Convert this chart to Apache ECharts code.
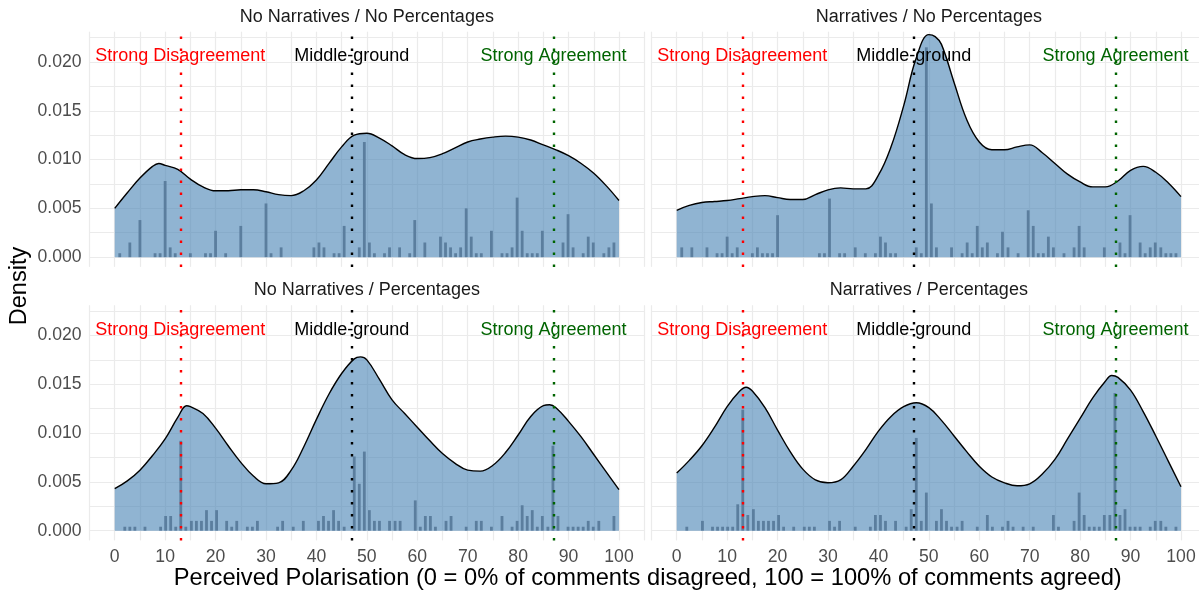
<!DOCTYPE html>
<html>
<head>
<meta charset="utf-8" />
<title>Perceived Polarisation</title>
<script src="https://cdn.jsdelivr.net/npm/echarts@6.0.0/dist/echarts.min.js"></script>
<style>
  html, body { margin: 0; padding: 0; background: #fff; }
  #chart { width: 1199px; height: 595px; }
</style>
</head>
<body>
<div id="chart"></div>
<script>
// panel titles, in facet order (top-left, top-right, bottom-left, bottom-right)
var panelTitles = ['No Narratives / No Percentages', 'Narratives / No Percentages',
                   'No Narratives / Percentages', 'Narratives / Percentages'];

// reference lines + their labels
var refX = [13, 47, 87];
var refLabels = ['Strong Disagreement', 'Middle-ground', 'Strong Agreement'];
var refColors = ['#ff0000', '#000000', '#006400'];
var refLabelY = 0.0206;

// axis ticks
var xLabelValues = [0, 10, 20, 30, 40, 50, 60, 70, 80, 90, 100];
var yLabelValues = [0, 0.005, 0.01, 0.015, 0.02];
var yGridValues = [0, 0.0025, 0.005, 0.0075, 0.01, 0.0125, 0.015, 0.0175, 0.02, 0.0225];

// density curves, read at these x positions
var densityX = [0, 2.5, 5, 7.5, 10, 12.5, 15, 17.5, 20, 22.5, 25, 27.5, 30, 32.5, 35, 37.5, 40,
                42.5, 45, 47.5, 50, 52.5, 55, 57.5, 60, 62.5, 65, 67.5, 70, 72.5, 75, 77.5, 80,
                82.5, 85, 87.5, 90, 92.5, 95, 97.5, 100];
var densNoNarrNoPct = [0.0050, 0.0066, 0.0081, 0.0093, 0.0094, 0.0090, 0.0080, 0.0072, 0.0068, 0.0068,
                       0.0069, 0.0069, 0.0067, 0.0064, 0.0063, 0.0068, 0.0079, 0.0096, 0.0113, 0.0125,
                       0.0127, 0.0122, 0.0114, 0.0105, 0.0101, 0.0102, 0.0106, 0.0112, 0.0118, 0.0121,
                       0.0123, 0.0124, 0.0123, 0.0120, 0.0115, 0.0110, 0.0104, 0.0096, 0.0086, 0.0073, 0.0058];
var densNarrNoPct = [0.0048, 0.0053, 0.0056, 0.0057, 0.0058, 0.0060, 0.0062, 0.0063, 0.0061, 0.0059,
                     0.0059, 0.0064, 0.0069, 0.0071, 0.0070, 0.0070, 0.0084, 0.0113, 0.0155, 0.0204,
                     0.0228, 0.0218, 0.0179, 0.0141, 0.0118, 0.0110, 0.0110, 0.0113, 0.0115, 0.0107,
                     0.0096, 0.0085, 0.0077, 0.0072, 0.0072, 0.0078, 0.0089, 0.0093, 0.0087, 0.0076, 0.0062];
var densNoNarrPct = [0.0043, 0.0051, 0.0062, 0.0077, 0.0094, 0.0116, 0.0127, 0.0120, 0.0105, 0.0087,
                     0.0070, 0.0056, 0.0048, 0.0049, 0.0062, 0.0086, 0.0114, 0.0140, 0.0161, 0.0176,
                     0.0175, 0.0155, 0.0134, 0.0120, 0.0106, 0.0092, 0.0079, 0.0069, 0.0062, 0.0061,
                     0.0067, 0.0080, 0.0098, 0.0117, 0.0128, 0.0126, 0.0112, 0.0096, 0.0078, 0.0060, 0.0042];
var densNarrPct = [0.0059, 0.0072, 0.0087, 0.0106, 0.0127, 0.0143, 0.0143, 0.0126, 0.0103, 0.0081,
                   0.0063, 0.0052, 0.0049, 0.0052, 0.0066, 0.0083, 0.0102, 0.0117, 0.0127, 0.0131,
                   0.0126, 0.0113, 0.0097, 0.0081, 0.0066, 0.0055, 0.0049, 0.0046, 0.0048, 0.0058,
                   0.0073, 0.0094, 0.0115, 0.0136, 0.0153, 0.0157, 0.0144, 0.0122, 0.0097, 0.0071, 0.0045];

// extra readings at the tops of the humps [x, density]
var peaksNoNarrNoPct = [[8.75, 0.0096]];
var peaksNarrNoPct = [[51.25, 0.0226]];
var peaksNoNarrPct = [[14.25, 0.0128], [48.75, 0.0178], [86.25, 0.0129]];
var peaksNarrPct = [[13.75, 0.0147], [86.25, 0.0159]];

// histogram bars [x, density]
var barsNoNarrNoPct = [[1,0.0004],[3,0.0015],[5,0.0038],[8,0.0004],[9,0.0004],[10,0.0078],[11,0.0010],[12,0.0004],
  [15,0.0004],[18,0.0004],[19,0.0004],[20,0.0027],[22,0.0004],[25,0.0032],[30,0.0055],[31,0.0004],[33,0.0010],
  [39.5,0.0010],[40.5,0.0015],[41.5,0.0010],[43.5,0.0004],[44.5,0.0004],[45.5,0.0032],[48.5,0.0010],[49.5,0.0118],
  [50.5,0.0015],[51.5,0.0004],[53.5,0.0004],[54.5,0.0010],[56.5,0.0010],[58.5,0.0004],[59.5,0.0038],[61.5,0.0015],
  [64.6,0.0021],[65.6,0.0015],[66.6,0.0010],[67.6,0.0004],[68.6,0.0010],[69.7,0.0050],[70.7,0.0021],[71.7,0.0004],
  [72.7,0.0004],[74.7,0.0027],[76.8,0.0004],[77.8,0.0004],[78.8,0.0010],[79.8,0.0061],[80.8,0.0027],[81.8,0.0004],
  [82.8,0.0004],[83.8,0.0004],[84.8,0.0027],[88.9,0.0015],[89.9,0.0044],[90.9,0.0010],[92.9,0.0004],[93.9,0.0021],
  [94.9,0.0015],[97,0.0004],[98,0.0010],[99,0.0015]];
var barsNarrNoPct = [[1,0.0010],[3,0.0010],[6,0.0010],[8,0.0004],[9,0.0004],[10,0.0021],[11,0.0004],[12,0.0010],
  [15,0.0004],[16,0.0010],[17,0.0004],[18,0.0004],[19,0.0004],[20,0.0043],[28.3,0.0004],[29.3,0.0004],[30.3,0.0060],
  [32.3,0.0004],[33.3,0.0004],[35.4,0.0010],[37.4,0.0004],[39.4,0.0004],[40.4,0.0021],[41.4,0.0015],[42.4,0.0004],
  [43.4,0.0004],[47.5,0.0010],[48.5,0.0004],[49.5,0.0215],[50.5,0.0055],[51.5,0.0010],[54.5,0.0010],[56.6,0.0004],
  [57.6,0.0015],[58.6,0.0004],[59.6,0.0032],[60.6,0.0010],[61.6,0.0015],[63.6,0.0004],[64.6,0.0026],[65.7,0.0010],
  [67.7,0.0004],[69.7,0.0048],[70.7,0.0032],[71.7,0.0004],[72.7,0.0004],[73.7,0.0021],[74.7,0.0010],[76.8,0.0004],
  [78.8,0.0010],[79.8,0.0032],[80.8,0.0010],[84.8,0.0010],[87.9,0.0015],[88.9,0.0004],[89.9,0.0043],[91.9,0.0015],
  [92.9,0.0004],[93.9,0.0010],[94.9,0.0015],[96,0.0010],[97,0.0004],[98,0.0004],[99,0.0004]];
var barsNoNarrPct = [[2,0.0004],[3,0.0004],[4,0.0004],[6,0.0004],[9.1,0.0004],[10.1,0.0015],[11.1,0.0015],[12.1,0.0004],
  [13.1,0.0092],[14.1,0.0004],[15.2,0.0010],[16.2,0.0010],[17.2,0.0010],[18.2,0.0021],[19.2,0.0010],[20.2,0.0021],
  [22.2,0.0010],[23.2,0.0004],[24.2,0.0010],[26.3,0.0004],[27.3,0.0004],[28.3,0.0010],[32.3,0.0004],[33.3,0.0010],
  [35.4,0.0004],[37.4,0.0010],[40.4,0.0010],[41.4,0.0015],[42.4,0.0010],[43.4,0.0021],[44.4,0.0010],[45.5,0.0004],
  [47.5,0.0076],[48.5,0.0048],[49.5,0.0081],[50.5,0.0021],[51.5,0.0010],[52.5,0.0010],[54.5,0.0010],[55.6,0.0010],
  [56.6,0.0010],[59.6,0.0031],[60.6,0.0004],[61.6,0.0015],[62.6,0.0015],[63.6,0.0004],[65.7,0.0010],[66.7,0.0015],
  [69.7,0.0004],[71.7,0.0010],[72.7,0.0010],[74.7,0.0004],[76.8,0.0015],[78.8,0.0004],[79.8,0.0010],[80.8,0.0026],
  [81.8,0.0015],[82.8,0.0021],[83.8,0.0004],[84.8,0.0015],[85.9,0.0004],[86.9,0.0087],[87.9,0.0015],[89.9,0.0004],
  [90.9,0.0004],[91.9,0.0004],[92.9,0.0004],[93.9,0.0010],[94.9,0.0004],[96,0.0010],[99,0.0015]];
var barsNarrPct = [[2,0.0004],[5.1,0.0010],[7.1,0.0004],[8.1,0.0004],[9.1,0.0004],[10.1,0.0004],[11.1,0.0004],[12.1,0.0027],
  [13.1,0.0124],[14.1,0.0016],[15.2,0.0022],[16.2,0.0010],[17.2,0.0010],[18.2,0.0010],[19.2,0.0010],[20.2,0.0016],
  [21.2,0.0004],[23.2,0.0004],[25.3,0.0004],[26.3,0.0004],[27.3,0.0004],[30.3,0.0010],[31.3,0.0004],[32.3,0.0010],
  [35.4,0.0004],[38.4,0.0004],[39.4,0.0016],[40.4,0.0016],[41.4,0.0010],[43.4,0.0010],[45.5,0.0004],[46.5,0.0022],
  [47.5,0.0095],[48.5,0.0010],[49.5,0.0039],[51.5,0.0010],[52.5,0.0022],[53.5,0.0010],[54.5,0.0004],[55.6,0.0004],
  [56.6,0.0010],[59.6,0.0004],[61.6,0.0016],[62.6,0.0004],[64.6,0.0004],[65.7,0.0010],[66.7,0.0004],[68.7,0.0004],
  [70.7,0.0004],[74.7,0.0016],[75.7,0.0004],[78.8,0.0010],[79.8,0.0039],[80.8,0.0016],[81.8,0.0004],[82.8,0.0004],
  [83.8,0.0004],[84.8,0.0016],[85.9,0.0016],[86.9,0.0141],[87.9,0.0016],[88.9,0.0022],[89.9,0.0004],[90.9,0.0004],
  [91.9,0.0004],[93.9,0.0004],[94.9,0.0010],[96,0.0010],[97,0.0004],[99,0.0004]];

var densities = [densNoNarrNoPct, densNarrNoPct, densNoNarrPct, densNarrPct];
var peaks = [peaksNoNarrNoPct, peaksNarrNoPct, peaksNoNarrPct, peaksNarrPct];
var bars = [barsNoNarrNoPct, barsNarrNoPct, barsNoNarrPct, barsNarrPct];

var FONT = '"Liberation Sans", Arial, sans-serif';
var GRID_COLOR = '#ebebeb';

// panel rectangles (px); the right column runs a little past the canvas, as in the original
var panelLeft = [89.5, 651.5, 89.5, 651.5];
var panelTop = [31.7, 31.7, 305.2, 305.2];
var panelW = 554.7, panelH = 235.2;

var grids = [], xAxes = [], yAxes = [], series = [], graphics = [];

for (var i = 0; i < 4; i++) {
  grids.push({ left: panelLeft[i], top: panelTop[i], width: panelW, height: panelH,
               containLabel: false, outerBoundsMode: 'none' });

  xAxes.push({
    type: 'value', gridIndex: i, min: -5, max: 105, interval: 5,
    axisLine: { show: false }, axisTick: { show: false },
    axisLabel: {
      show: i >= 2, margin: 8, color: '#4d4d4d', fontSize: 17.6, fontFamily: FONT,
      formatter: function (v) { return xLabelValues.indexOf(v) >= 0 ? String(v) : ''; }
    },
    splitLine: { show: true, lineStyle: { color: GRID_COLOR, width: 1.2 } }
  });

  yAxes.push({
    type: 'value', gridIndex: i, min: -0.001, max: 0.0231,
    axisLine: { show: false },
    axisTick: { show: false, customValues: yGridValues },
    axisLabel: {
      show: i % 2 === 0, margin: 8, color: '#4d4d4d', fontSize: 17.6, fontFamily: FONT,
      customValues: yLabelValues,
      formatter: function (v) { return v.toFixed(3); }
    },
    splitLine: { show: true, lineStyle: { color: GRID_COLOR, width: 1.2 } }
  });

  // merge the regular readings with the hump tops, sorted by x
  var curve = [];
  for (var k = 0; k < densityX.length; k++) curve.push([densityX[k], densities[i][k]]);
  curve = curve.concat(peaks[i]).sort(function (a, b) { return a[0] - b[0]; });

  series.push({
    type: 'line', xAxisIndex: i, yAxisIndex: i, data: curve,
    smooth: 0.4, showSymbol: false, silent: true, z: 1,
    lineStyle: { color: '#000', width: 1.4 },
    areaStyle: { color: '#4682b4', opacity: 0.6 }
  });

  series.push({
    type: 'bar', xAxisIndex: i, yAxisIndex: i, data: bars[i],
    barWidth: 2.8, silent: true, z: 2,
    itemStyle: { color: '#5b7e9e' }
  });

  var labelData = [];
  for (var r = 0; r < refX.length; r++) {
    labelData.push({
      value: [refX[r], refLabelY], name: refLabels[r],
      label: { color: refColors[r] }
    });
  }
  var lineData = [];
  for (var r2 = 0; r2 < refX.length; r2++) {
    lineData.push({ xAxis: refX[r2], lineStyle: { color: refColors[r2] } });
  }

  series.push({
    type: 'scatter', xAxisIndex: i, yAxisIndex: i, data: labelData,
    symbolSize: 1, itemStyle: { color: 'rgba(0,0,0,0)', opacity: 1 }, silent: true, z: 4,
    label: {
      show: true, position: 'inside', formatter: '{b}',
      fontSize: 18, fontFamily: FONT, opacity: 1
    },
    markLine: {
      silent: true, symbol: ['none', 'none'], label: { show: false },
      lineStyle: { type: [2.3, 9.7], width: 2.4, opacity: 1 },
      data: lineData
    }
  });

  graphics.push({
    type: 'text', x: panelLeft[i] + panelW / 2, y: panelTop[i] - 14.7,
    style: {
      text: panelTitles[i], fill: '#1a1a1a', font: '18px ' + FONT,
      textAlign: 'center', textVerticalAlign: 'middle', align: 'center', verticalAlign: 'middle'
    }
  });
}

graphics.push({
  type: 'text', x: 647.7, y: 578,
  style: {
    text: 'Perceived Polarisation (0 = 0% of comments disagreed, 100 = 100% of comments agreed)',
    fill: '#000', font: '23.7px ' + FONT,
    textAlign: 'center', textVerticalAlign: 'middle', align: 'center', verticalAlign: 'middle'
  }
});
graphics.push({
  type: 'text', x: 20, y: 286, rotation: Math.PI / 2,
  style: {
    text: 'Density', fill: '#000', font: '23.5px ' + FONT,
    textAlign: 'center', textVerticalAlign: 'middle', align: 'center', verticalAlign: 'middle'
  }
});

var myChart = echarts.init(document.getElementById('chart'), null, { renderer: 'canvas' });
myChart.setOption({
  animation: false,
  backgroundColor: '#ffffff',
  grid: grids,
  xAxis: xAxes,
  yAxis: yAxes,
  series: series,
  graphic: graphics
});
</script>
</body>
</html>
